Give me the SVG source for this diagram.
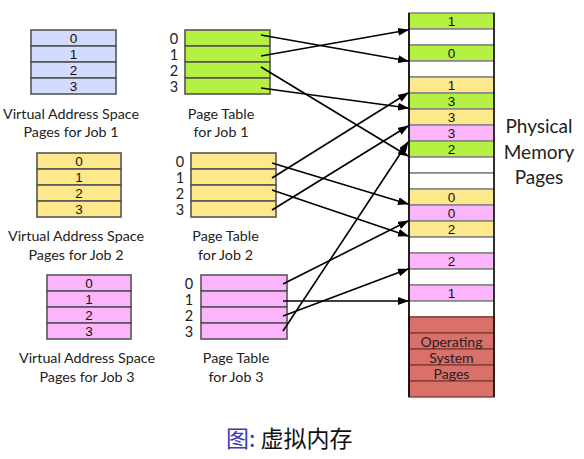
<svg xmlns="http://www.w3.org/2000/svg" width="584" height="459" viewBox="0 0 584 459">
<style>
.lbl{font-family:Lato,"Liberation Sans",sans-serif;font-size:14.3px;fill:#222;text-anchor:middle}
.idx{font-family:Lato,"Liberation Sans",sans-serif;font-size:14.5px;fill:#222;text-anchor:middle}
.num{font-family:"Liberation Sans",Arial,sans-serif;font-size:13.5px;fill:#111;text-anchor:middle}
.os{font-family:Lato,"Liberation Sans",sans-serif;font-size:14px;fill:#222;text-anchor:middle}
.big{font-family:Lato,"Liberation Sans",sans-serif;font-size:19px;fill:#222;text-anchor:middle}
.cell{stroke:#555;stroke-width:1.6}
.mem{stroke:#888;stroke-width:1.6}
.osr{fill:#d9706a;stroke:#8a3c38;stroke-width:1.4}
.blue{fill:#d3dbff}.green{fill:#b6f043}.yellow{fill:#fde98c}.pink{fill:#fcb4fc}.white{fill:#fff}
.conn{stroke:#000;stroke-width:1.6;fill:none;marker-end:url(#ah)}
</style>
<defs>
<marker id="ah" markerUnits="userSpaceOnUse" markerWidth="11" markerHeight="8" refX="10" refY="4" orient="auto">
<path d="M0,0 L11,4 L0,8 z" fill="#000"/>
</marker>
</defs>
<rect width="584" height="459" fill="#fff"/>

<g id="vas1">
<rect class="cell blue" x="31" y="30" width="85" height="16"/>
<rect class="cell blue" x="31" y="46" width="85" height="16"/>
<rect class="cell blue" x="31" y="62" width="85" height="16"/>
<rect class="cell blue" x="31" y="78" width="85" height="16"/>
<text class="num" x="73.5" y="43">0</text>
<text class="num" x="73.5" y="59">1</text>
<text class="num" x="73.5" y="75">2</text>
<text class="num" x="73.5" y="91">3</text>
<text class="lbl" x="71" y="118.5">Virtual Address Space</text>
<text class="lbl" x="71" y="137">Pages for Job 1</text>
</g>

<g id="pt1">
<rect class="cell green" x="185" y="30" width="85" height="16"/>
<rect class="cell green" x="185" y="46" width="85" height="16"/>
<rect class="cell green" x="185" y="62" width="85" height="16"/>
<rect class="cell green" x="185" y="78" width="85" height="16"/>
<text class="idx" x="174" y="43.5">0</text>
<text class="idx" x="174" y="59.5">1</text>
<text class="idx" x="174" y="75.5">2</text>
<text class="idx" x="174" y="91.5">3</text>
<text class="lbl" x="221" y="118.5">Page Table</text>
<text class="lbl" x="221" y="137">for Job 1</text>
</g>

<g id="vas2">
<rect class="cell yellow" x="37" y="153" width="84" height="16"/>
<rect class="cell yellow" x="37" y="169" width="84" height="16"/>
<rect class="cell yellow" x="37" y="185" width="84" height="16"/>
<rect class="cell yellow" x="37" y="201" width="84" height="16"/>
<text class="num" x="79" y="166">0</text>
<text class="num" x="79" y="182">1</text>
<text class="num" x="79" y="198">2</text>
<text class="num" x="79" y="214">3</text>
<text class="lbl" x="76" y="241">Virtual Address Space</text>
<text class="lbl" x="76" y="259.5">Pages for Job 2</text>
</g>

<g id="pt2">
<rect class="cell yellow" x="191" y="153" width="85" height="16"/>
<rect class="cell yellow" x="191" y="169" width="85" height="16"/>
<rect class="cell yellow" x="191" y="185" width="85" height="16"/>
<rect class="cell yellow" x="191" y="201" width="85" height="16"/>
<text class="idx" x="180" y="166.5">0</text>
<text class="idx" x="180" y="182.5">1</text>
<text class="idx" x="180" y="198.5">2</text>
<text class="idx" x="180" y="214.5">3</text>
<text class="lbl" x="225.5" y="241">Page Table</text>
<text class="lbl" x="225.5" y="259.5">for Job 2</text>
</g>

<g id="vas3">
<rect class="cell pink" x="47" y="275" width="84" height="16"/>
<rect class="cell pink" x="47" y="291" width="84" height="16"/>
<rect class="cell pink" x="47" y="307" width="84" height="16"/>
<rect class="cell pink" x="47" y="323" width="84" height="16"/>
<text class="num" x="89" y="288">0</text>
<text class="num" x="89" y="304">1</text>
<text class="num" x="89" y="320">2</text>
<text class="num" x="89" y="336">3</text>
<text class="lbl" x="87" y="363">Virtual Address Space</text>
<text class="lbl" x="87" y="382">Pages for Job 3</text>
</g>

<g id="pt3">
<rect class="cell pink" x="201" y="275" width="86" height="16"/>
<rect class="cell pink" x="201" y="291" width="86" height="16"/>
<rect class="cell pink" x="201" y="307" width="86" height="16"/>
<rect class="cell pink" x="201" y="323" width="86" height="16"/>
<text class="idx" x="189" y="288.5">0</text>
<text class="idx" x="189" y="304.5">1</text>
<text class="idx" x="189" y="320.5">2</text>
<text class="idx" x="189" y="336.5">3</text>
<text class="lbl" x="236" y="363">Page Table</text>
<text class="lbl" x="236" y="382">for Job 3</text>
</g>

<g id="memory">
<rect class="mem green" x="409" y="13" width="85" height="16"/>
<rect class="mem white" x="409" y="29" width="85" height="16"/>
<rect class="mem green" x="409" y="45" width="85" height="16"/>
<rect class="mem white" x="409" y="61" width="85" height="16"/>
<rect class="mem yellow" x="409" y="77" width="85" height="16"/>
<rect class="mem green" x="409" y="93" width="85" height="16"/>
<rect class="mem yellow" x="409" y="109" width="85" height="16"/>
<rect class="mem pink" x="409" y="125" width="85" height="16"/>
<rect class="mem green" x="409" y="141" width="85" height="16"/>
<rect class="mem white" x="409" y="157" width="85" height="16"/>
<rect class="mem white" x="409" y="173" width="85" height="16"/>
<rect class="mem yellow" x="409" y="189" width="85" height="16"/>
<rect class="mem pink" x="409" y="205" width="85" height="16"/>
<rect class="mem yellow" x="409" y="221" width="85" height="16"/>
<rect class="mem white" x="409" y="237" width="85" height="16"/>
<rect class="mem pink" x="409" y="253" width="85" height="16"/>
<rect class="mem white" x="409" y="269" width="85" height="16"/>
<rect class="mem pink" x="409" y="285" width="85" height="16"/>
<rect class="mem white" x="409" y="301" width="85" height="16"/>
<rect class="osr" x="409" y="317" width="85" height="16"/>
<rect class="osr" x="409" y="333" width="85" height="16"/>
<rect class="osr" x="409" y="349" width="85" height="16"/>
<rect class="osr" x="409" y="365" width="85" height="16"/>
<rect class="osr" x="409" y="381" width="85" height="16"/>
<line x1="409" y1="13" x2="409" y2="397" stroke="#000" stroke-width="1.6"/>
<line x1="494" y1="13" x2="494" y2="397" stroke="#000" stroke-width="1.4"/>
<text class="num" x="451.5" y="26">1</text>
<text class="num" x="451.5" y="58">0</text>
<text class="num" x="451.5" y="90">1</text>
<text class="num" x="451.5" y="106">3</text>
<text class="num" x="451.5" y="122">3</text>
<text class="num" x="451.5" y="138">3</text>
<text class="num" x="451.5" y="154">2</text>
<text class="num" x="451.5" y="202">0</text>
<text class="num" x="451.5" y="218">0</text>
<text class="num" x="451.5" y="234">2</text>
<text class="num" x="451.5" y="266">2</text>
<text class="num" x="451.5" y="298">1</text>
<text class="os" x="451.5" y="346.5">Operating</text>
<text class="os" x="451.5" y="362.5">System</text>
<text class="os" x="451.5" y="378.5">Pages</text>
<text class="big" x="539" y="133">Physical</text>
<text class="big" x="539" y="159">Memory</text>
<text class="big" x="539" y="184">Pages</text>
</g>

<g id="connectors">
<line class="conn" x1="261" y1="35" x2="408" y2="61"/>
<line class="conn" x1="261" y1="56" x2="408" y2="30"/>
<line class="conn" x1="261" y1="67" x2="408" y2="156"/>
<line class="conn" x1="261" y1="88" x2="408" y2="108"/>
<line class="conn" x1="272" y1="163" x2="408" y2="204"/>
<line class="conn" x1="272" y1="178" x2="408" y2="93"/>
<line class="conn" x1="272" y1="190" x2="408" y2="236"/>
<line class="conn" x1="272" y1="210" x2="408" y2="126"/>
<line class="conn" x1="283" y1="284" x2="408" y2="221"/>
<line class="conn" x1="283" y1="301" x2="408" y2="301"/>
<line class="conn" x1="283" y1="316" x2="408" y2="269"/>
<line class="conn" x1="283" y1="331" x2="408" y2="142"/>
</g>

<g id="caption">
<text x="226" y="447" font-family="'Noto Sans CJK SC',sans-serif" font-size="23"><tspan fill="#3a3ab8">图:</tspan><tspan fill="#111"> 虚拟内存</tspan></text>
</g>
</svg>
